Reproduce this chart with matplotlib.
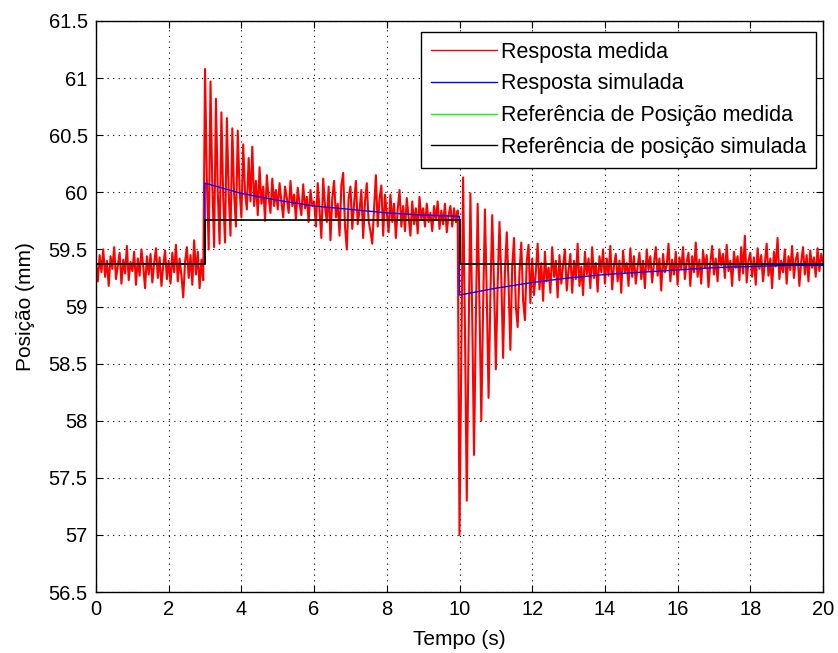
import numpy as np
import matplotlib
matplotlib.use('Agg')
import matplotlib.pyplot as plt

plt.rcParams['font.family'] = ['Liberation Sans', 'DejaVu Sans']

# resposta medida, amostras a cada 0.05 s (0 a 20 s)
resp_medida = [
    59.38, 59.22, 59.45, 59.30, 59.50, 59.26, 59.40, 59.18, 59.44, 59.33, 59.52, 59.24, 59.36, 59.47, 59.20, 59.41, 59.29, 59.53, 59.23, 59.39,
    59.31, 59.48, 59.19, 59.42, 59.27, 59.50, 59.35, 59.16, 59.44, 59.28, 59.46, 59.21, 59.38, 59.51, 59.25, 59.43, 59.18, 59.36, 59.49, 59.24,
    59.40, 59.20, 59.47, 59.30, 59.54, 59.22, 59.42, 59.27, 59.08, 59.39, 59.52, 59.25, 59.45, 59.19, 59.58, 59.28, 59.48, 59.16, 59.41, 59.23,
    61.08, 60.10, 59.50, 60.97, 60.05, 59.52, 60.82, 60.00, 59.55, 60.70, 59.95, 59.56, 60.65, 60.00, 59.62, 60.56, 59.98, 59.70, 60.54, 60.02,
    59.78, 60.42, 60.00, 59.85, 60.30, 59.92, 60.40, 59.88, 60.10, 59.80, 60.22, 59.90, 60.05, 59.75, 60.15, 59.95, 59.82, 60.12, 59.88, 60.02,
    59.85, 60.08, 59.92, 59.78, 60.05, 59.95, 59.82, 60.10, 59.88, 59.98, 59.76, 60.04, 59.90, 59.80, 60.07, 59.86, 59.96, 59.74, 60.02, 59.88,
    59.92, 59.70, 60.08, 59.84, 59.60, 60.12, 59.88, 59.74, 60.05, 59.58, 59.95, 60.10, 59.78, 59.90, 59.62, 60.06, 60.17, 59.70, 59.50, 59.95,
    60.05, 59.68, 59.90, 60.10, 59.72, 59.84, 60.02, 59.60, 59.92, 60.08, 59.75, 59.66, 59.55, 59.86, 60.15, 59.70, 59.94, 60.06, 59.62, 59.98,
    59.82, 59.65, 59.98, 59.74, 59.90, 59.60, 59.85, 60.02, 59.70, 59.88, 59.66, 59.95, 59.78, 59.62, 59.92, 59.72, 59.86, 59.64, 59.96, 59.76,
    59.86, 59.70, 59.90, 59.74, 59.82, 59.66, 59.88, 59.76, 59.92, 59.68, 59.84, 59.72, 59.90, 59.65, 59.80, 59.88, 59.70, 59.86, 59.74, 59.84,
    57.00, 58.60, 60.13, 58.80, 57.30, 58.70, 59.99, 58.90, 57.70, 58.90, 59.90, 59.00, 58.00, 59.00, 59.85, 59.10, 58.20, 59.10, 59.80, 59.20,
    58.45, 59.20, 59.74, 59.25, 58.55, 59.30, 59.65, 59.20, 58.62, 59.35, 59.60, 59.00, 58.82, 59.30, 59.56, 59.05, 58.88, 59.40, 59.54, 59.03,
    59.42, 59.10, 59.30, 59.55, 59.15, 59.38, 59.05, 59.48, 59.22, 59.34, 59.12, 59.52, 59.26, 59.40, 59.08, 59.45, 59.20, 59.36, 59.50, 59.14,
    59.32, 59.46, 59.12, 59.40, 59.24, 59.55, 59.18, 59.35, 59.10, 59.48, 59.28, 59.42, 59.16, 59.52, 59.25, 59.38, 59.13, 59.44, 59.30, 59.50,
    59.20, 59.42, 59.27, 59.53, 59.15, 59.36, 59.46, 59.22, 59.40, 59.12, 59.49, 59.30, 59.38, 59.18, 59.51, 59.26, 59.44, 59.20, 59.35, 59.47,
    59.24, 59.40, 59.16, 59.50, 59.32, 59.44, 59.21, 59.38, 59.52, 59.27, 59.42, 59.14, 59.46, 59.30, 59.36, 59.55, 59.22, 59.41, 59.28, 59.48,
    59.19, 59.43, 59.33, 59.52, 59.24, 59.39, 59.47, 59.18, 59.44, 59.30, 59.56, 59.26, 59.41, 59.20, 59.49, 59.34, 59.45, 59.17, 59.38, 59.53,
    59.28, 59.42, 59.22, 59.50, 59.36, 59.46, 59.25, 59.54, 59.31, 59.40, 59.18, 59.48, 59.34, 59.44, 59.23, 59.52, 59.29, 59.62, 59.21, 59.40,
    59.47, 59.26, 59.43, 59.19, 59.51, 59.33, 59.45, 59.22, 59.38, 59.55, 59.27, 59.42, 59.16, 59.48, 59.35, 59.60, 59.24, 59.40, 59.30, 59.50,
    59.20, 59.44, 59.32, 59.53, 59.25, 59.41, 59.47, 59.18, 59.39, 59.52, 59.28, 59.45, 59.22, 59.49, 59.34, 59.43, 59.26, 59.51, 59.31, 59.46,
    59.38,
]
t_medida = np.linspace(0, 20, len(resp_medida))

# resposta simulada
t_sim = [0, 3, 3, 4, 5, 6, 7, 8, 9, 10, 10, 11, 12, 13, 14, 15, 16, 17, 18, 19, 20]
resp_sim = [59.37, 59.37, 60.08, 59.99, 59.93, 59.88, 59.85, 59.82, 59.80, 59.79,
            59.10, 59.16, 59.21, 59.25, 59.28, 59.30, 59.32, 59.34, 59.35, 59.36, 59.36]

# referencias de posicao
t_ref = [0, 3, 10, 20]
ref_medida = [59.37, 59.76, 59.37, 59.37]
ref_sim = [59.37, 59.76, 59.37, 59.37]

labels = ['Resposta medida', 'Resposta simulada',
          'Referência de Posição medida', 'Referência de posição simulada']

fig = plt.figure(figsize=(8.38, 6.53), dpi=100)
ax = fig.add_axes([96/838, 61/653, 727/838, 571/653])

ax.plot(t_medida, resp_medida, color='#ff0000', lw=1.5, label=labels[0])
ax.plot(t_sim, resp_sim, color='#0000ff', lw=1.0, label=labels[1])
ax.plot(t_ref, ref_medida, color='#00ff00', lw=0.5, drawstyle='steps-post', label=labels[2])
ax.plot(t_ref, ref_sim, color='black', lw=1.2, drawstyle='steps-post', label=labels[3])

ax.set_xlim(0, 20)
ax.set_ylim(56.5, 61.5)
ax.set_xticks(np.arange(0, 21, 2))
ax.set_yticks(np.arange(56.5, 61.51, 0.5))
ax.set_yticklabels(['%g' % v for v in np.arange(56.5, 61.51, 0.5)])

ax.grid(True, color='black', linestyle=(0, (1, 4)), linewidth=0.8)
ax.tick_params(direction='in', top=True, right=True, length=5, width=0.8,
               labelsize=14.5, pad=6)
for s in ax.spines.values():
    s.set_linewidth(1.0)

ax.set_xlabel('Tempo (s)', fontsize=15, labelpad=8)
ax.set_ylabel('Posição (mm)', fontsize=15, labelpad=10)

leg = ax.legend(loc='upper right', bbox_to_anchor=(0.990, 0.981), borderaxespad=0,
                fontsize=15.5, fancybox=False, framealpha=1, edgecolor='black',
                handlelength=3.1, handletextpad=0.15, labelspacing=0.5, borderpad=0.45)
leg.get_frame().set_linewidth(1.0)
for h in leg.get_lines():
    h.set_linewidth(1.0)

fig.savefig('out.png', dpi=100)
